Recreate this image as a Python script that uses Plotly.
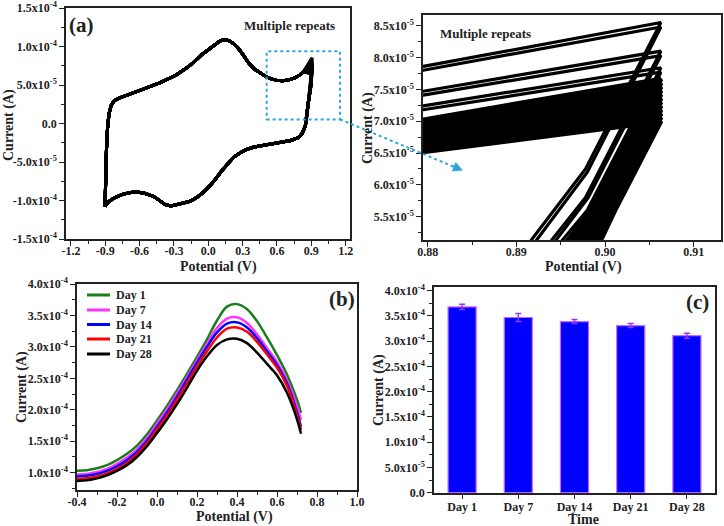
import plotly.graph_objects as go

FONT = "Liberation Serif"
W, H = 724, 526

# ---------------- Panel (a): CV, base cycle (x in V, y in 1e-5 A) ----------------
cv_fwd_x = [-0.902, -0.896, -0.889, -0.880, -0.868, -0.850, -0.820, -0.780, -0.720, -0.650,
            -0.580, -0.500, -0.420, -0.350, -0.280, -0.200, -0.130, -0.060, 0.000, 0.050,
            0.100, 0.140, 0.180, 0.220, 0.260, 0.300, 0.350, 0.400, 0.450, 0.500,
            0.550, 0.600, 0.650, 0.700, 0.750, 0.800, 0.830]
cv_fwd_y = [-10.8, -6.5, -3.2, -0.6, 1.2, 2.3, 3.0, 3.3, 3.6, 4.0,
            4.4, 4.85, 5.3, 5.8, 6.3, 7.1, 7.9, 8.9, 9.6, 10.2,
            10.7, 10.9, 10.75, 10.4, 9.8, 9.0, 7.9, 7.1, 6.55, 6.1,
            5.8, 5.6, 5.55, 5.65, 5.9, 6.3, 6.7]
cv_rev_x = [0.872, 0.862, 0.848, 0.820, 0.786, 0.720, 0.600, 0.500, 0.400, 0.330,
            0.280, 0.220, 0.170, 0.120, 0.070, 0.020, -0.040, -0.100, -0.160, -0.220,
            -0.280, -0.330, -0.380, -0.430, -0.480, -0.550, -0.620, -0.680, -0.750, -0.820,
            -0.870, -0.902]
cv_rev_y = [2.5, 1.0, -0.3, -1.3, -1.85, -2.2, -2.5, -2.75, -3.05, -3.4,
            -3.8, -4.4, -5.2, -6.1, -7.1, -8.0, -8.9, -9.6, -10.1, -10.35,
            -10.55, -10.7, -10.5, -9.95, -9.45, -9.1, -8.9, -8.95, -9.2, -9.65,
            -10.15, -10.75]

# repeated cycles near the positive vertex
cyc_left_x = 0.8795
cyc_vertex_x = 0.9063
cyc_bottom_y = 5.10
cyc_left_y = [7.86, 7.80, 7.47, 7.41, 7.24, 7.18,
              7.02, 6.97, 6.93, 6.88, 6.84, 6.79, 6.75, 6.70, 6.66, 6.61, 6.57, 6.52]
cyc_vertex_y = [8.55, 8.48, 8.10, 8.03, 7.84, 7.77,
                7.66, 7.60, 7.54, 7.48, 7.42, 7.36, 7.30, 7.24, 7.18, 7.12, 7.06, 7.00]
cyc_kink_x = [0.8978, 0.8980, 0.8978, 0.8981, 0.8980, 0.8983,
              0.8987, 0.8989, 0.8991, 0.8993, 0.8996, 0.8998, 0.9000, 0.9002, 0.9005, 0.9007,
              0.9009, 0.9011]
cyc_kink_y = [6.25, 6.20, 5.80, 5.80, 5.60, 5.60,
              5.60, 5.60, 5.60, 5.60, 5.60, 5.60, 5.60, 5.60, 5.60, 5.60, 5.60, 5.60]
cyc_bottom_x = [0.8915, 0.8921, 0.8938, 0.8943, 0.8950, 0.8955,
                0.8960, 0.8963, 0.8966, 0.8969, 0.8972, 0.8975, 0.8978, 0.8981, 0.8984, 0.8987,
                0.8990, 0.8994]
cyc_inset_width = [3.2, 3.2, 3.2, 3.2, 3.2, 3.2,
                   5, 5, 5, 5, 5, 5, 5, 5, 5, 5, 5, 5]

# ---------------- Panel (b): DPV over days (y in 1e-4 A) ----------------
dpv_x = [-0.40, -0.35, -0.30, -0.25, -0.20, -0.15, -0.10, -0.05, 0.00, 0.05, 0.10, 0.15,
         0.20, 0.25, 0.30, 0.35, 0.40, 0.45, 0.50, 0.55, 0.60, 0.65, 0.70, 0.72]
dpv_day1 = [1.03, 1.04, 1.07, 1.12, 1.20, 1.30, 1.43, 1.61, 1.83, 2.06, 2.31, 2.57,
            2.84, 3.12, 3.42, 3.64, 3.68, 3.60, 3.41, 3.15, 2.87, 2.56, 2.16, 1.95]
dpv_day7 = [0.97, 0.98, 1.01, 1.06, 1.14, 1.24, 1.37, 1.55, 1.78, 2.01, 2.26, 2.52,
            2.79, 3.05, 3.30, 3.45, 3.47, 3.38, 3.20, 2.98, 2.76, 2.47, 2.06, 1.84]
dpv_day14 = [0.94, 0.95, 0.98, 1.03, 1.10, 1.20, 1.33, 1.51, 1.73, 1.96, 2.21, 2.48,
             2.75, 3.00, 3.23, 3.37, 3.39, 3.31, 3.14, 2.93, 2.71, 2.42, 1.96, 1.73]
dpv_day21 = [0.90, 0.91, 0.94, 0.99, 1.06, 1.16, 1.29, 1.47, 1.69, 1.91, 2.16, 2.42,
             2.69, 2.93, 3.15, 3.29, 3.31, 3.24, 3.08, 2.88, 2.67, 2.38, 1.91, 1.68]
dpv_day28 = [0.87, 0.88, 0.91, 0.96, 1.03, 1.12, 1.25, 1.42, 1.63, 1.85, 2.09, 2.35,
             2.62, 2.85, 3.03, 3.12, 3.13, 3.06, 2.91, 2.73, 2.55, 2.27, 1.85, 1.62]
dpv_names = ["Day 1", "Day 7", "Day 14", "Day 21", "Day 28"]
dpv_colors = ["#1a7f1a", "#ff33ff", "#0000ff", "#ff0000", "#000000"]

# ---------------- Panel (c): bars (y in 1e-4 A) ----------------
bar_days = ["Day 1", "Day 7", "Day 14", "Day 21", "Day 28"]
bar_mean = [3.68, 3.47, 3.39, 3.31, 3.11]
bar_err = [0.05, 0.08, 0.04, 0.04, 0.05]

# ---------------- tick labels ----------------
a_ytickvals = [-1.5e-4, -1.0e-4, -5e-5, 0, 5e-5, 1.0e-4, 1.5e-4]
a_yticktext = ["-1.5x10<sup>-4</sup>", "-1.0x10<sup>-4</sup>", "-5.0x10<sup>-5</sup>", "0.0",
               "5.0x10<sup>-5</sup>", "1.0x10<sup>-4</sup>", "1.5x10<sup>-4</sup>"]
a_xtickvals = [-1.2, -0.9, -0.6, -0.3, 0.0, 0.3, 0.6, 0.9, 1.2]
a_xticktext = ["-1.2", "-0.9", "-0.6", "-0.3", "0.0", "0.3", "0.6", "0.9", "1.2"]
i_ytickvals = [5.5e-5, 6.0e-5, 6.5e-5, 7.0e-5, 7.5e-5, 8.0e-5, 8.5e-5]
i_yticktext = [f"{v}x10<sup>-5</sup>" for v in ["5.5", "6.0", "6.5", "7.0", "7.5", "8.0", "8.5"]]
i_xtickvals = [0.88, 0.89, 0.90, 0.91]
i_xticktext = ["0.88", "0.89", "0.90", "0.91"]
b_ytickvals = [1.0e-4, 1.5e-4, 2.0e-4, 2.5e-4, 3.0e-4, 3.5e-4, 4.0e-4]
b_yticktext = [f"{v}x10<sup>-4</sup>" for v in ["1.0", "1.5", "2.0", "2.5", "3.0", "3.5", "4.0"]]
b_xtickvals = [-0.4, -0.2, 0.0, 0.2, 0.4, 0.6, 0.8, 1.0]
b_xticktext = ["-0.4", "-0.2", "0.0", "0.2", "0.4", "0.6", "0.8", "1.0"]
c_ytickvals = [0, 5e-5, 1.0e-4, 1.5e-4, 2.0e-4, 2.5e-4, 3.0e-4, 3.5e-4, 4.0e-4]
c_yticktext = ["0.0", "5.0x10<sup>-5</sup>"] + [f"{v}x10<sup>-4</sup>" for v in
                                                ["1.0", "1.5", "2.0", "2.5", "3.0", "3.5", "4.0"]]

fig = go.Figure()

# CV cycles in main panel and inset
for i in range(len(cyc_left_y)):
    xs = cv_fwd_x + [cyc_left_x, cyc_vertex_x, cyc_kink_x[i], cyc_bottom_x[i]] + cv_rev_x
    ys = cv_fwd_y + [cyc_left_y[i], cyc_vertex_y[i], cyc_kink_y[i], cyc_bottom_y] + cv_rev_y
    ys = [v * 1e-5 for v in ys]
    fig.add_trace(go.Scatter(x=xs, y=ys, mode="lines", line=dict(color="black", width=3),
                             showlegend=False, hoverinfo="skip", xaxis="x", yaxis="y"))
    fig.add_trace(go.Scatter(x=xs, y=ys, mode="lines",
                             line=dict(color="black", width=cyc_inset_width[i]),
                             showlegend=False, hoverinfo="skip", xaxis="x2", yaxis="y2"))

# DPV
for name, col, ys in zip(dpv_names, dpv_colors, [dpv_day1, dpv_day7, dpv_day14, dpv_day21, dpv_day28]):
    fig.add_trace(go.Scatter(x=dpv_x, y=[v * 1e-4 for v in ys], mode="lines", name=name,
                             line=dict(color=col, width=2.5, shape="spline"),
                             xaxis="x3", yaxis="y3", showlegend=False))

# Bars
fig.add_trace(go.Bar(x=bar_days, y=[v * 1e-4 for v in bar_mean], width=0.5,
                     marker=dict(color="#0000ff", line=dict(color="#cc66ff", width=1.2)),
                     error_y=dict(type="data", array=[v * 1e-4 for v in bar_err],
                                  color="#9933ff", thickness=1.5, width=3),
                     xaxis="x4", yaxis="y4", showlegend=False))


def ax(domain, rng, tv, tt, anchor, minor_dtick=None, minor_tick0=None, **kw):
    d = dict(domain=domain, range=rng, tickmode="array", tickvals=tv, ticktext=tt,
             anchor=anchor, showline=True, linecolor="#222", linewidth=1.5, mirror=True,
             ticks="outside", ticklen=5, tickwidth=1.3, tickcolor="#222",
             showgrid=False, zeroline=False, automargin=False,
             tickfont=dict(family=FONT, size=12, color="#222", weight="bold"))
    if minor_dtick is not None:
        d["minor"] = dict(dtick=minor_dtick, tick0=minor_tick0, ticks="outside", ticklen=3,
                          tickwidth=1, tickcolor="#222", showgrid=False)
    d.update(kw)
    return d


def px2x(p):
    return p / W


def px2y(p):
    return 1 - p / H


XS = dict(ticklabelstandoff=-5)

fig.update_layout(
    width=W, height=H, margin=dict(l=0, r=0, t=0, b=0, autoexpand=False),
    paper_bgcolor="white", plot_bgcolor="white",
    font=dict(family=FONT, color="#222"),
    xaxis=ax([px2x(66), px2x(350)], [-1.243, 1.238], a_xtickvals, a_xticktext, "y", 0.15, -1.2, **XS),
    yaxis=ax([px2y(239), px2y(8)], [-1.5e-4, 1.5e-4], a_ytickvals, a_yticktext, "x", 2.5e-5, -1.5e-4),
    xaxis2=ax([px2x(423), px2x(721)], [0.87947, 0.91308], i_xtickvals, i_xticktext, "y2", 0.005, 0.88, **XS),
    yaxis2=ax([px2y(240), px2y(15)], [5.134e-5, 8.668e-5], i_ytickvals, i_yticktext, "x2", 2.5e-6, 5.5e-5),
    xaxis3=ax([px2x(77), px2x(357)], [-0.4, 1.0], b_xtickvals, b_xticktext, "y3", 0.1, -0.4, **XS),
    yaxis3=ax([px2y(490), px2y(284)], [0.725e-4, 4.0e-4], b_ytickvals, b_yticktext, "x3", 2.5e-5, 1.0e-4),
    xaxis4=dict(domain=[px2x(434), px2x(715)], range=[-0.5, 4.5], anchor="y4", automargin=False,
                showline=True, linecolor="#222", linewidth=1.5, mirror=True,
                ticks="outside", ticklen=5, tickwidth=1.3, tickcolor="#222", showgrid=False,
                ticklabelstandoff=-3,
                tickfont=dict(family=FONT, size=12, color="#222", weight="bold")),
    yaxis4=ax([px2y(492.7), px2y(286.7)], [0, 4.08e-4], c_ytickvals, c_yticktext, "x4", 2.5e-5, 0),
    showlegend=False,
    bargap=0.5,
)

blue = "#29a8e0"
fig.add_shape(type="rect", xref="x", yref="y", x0=0.51, x1=1.15, y0=0.52e-5, y1=9.37e-5,
              line=dict(color=blue, width=2, dash="dot"))
fig.add_shape(type="line", xref="paper", yref="paper", x0=px2x(340), y0=px2y(119.3),
              x1=px2x(458), y1=px2y(168.5), line=dict(color=blue, width=2, dash="dot"))
fig.add_annotation(xref="paper", yref="paper", x=px2x(463), y=px2y(170.5), ax=-12, ay=-5,
                   showarrow=True, arrowhead=2, arrowsize=1, arrowwidth=2, arrowcolor=blue, text="")


def txt(x, y, s, size=14, angle=0, xanchor="center"):
    fig.add_annotation(xref="paper", yref="paper", x=px2x(x), y=px2y(y), text=s, showarrow=False,
                       textangle=angle, xanchor=xanchor, yanchor="middle",
                       font=dict(family=FONT, size=size, color="#222", weight="bold"))


# legend of panel (b)
legend_rows = [295, 310, 324.5, 339, 354]
for name, col, yy in zip(dpv_names, dpv_colors, legend_rows):
    fig.add_shape(type="line", xref="paper", yref="paper", x0=px2x(87), x1=px2x(110),
                  y0=px2y(yy), y1=px2y(yy), line=dict(color=col, width=3))
    txt(114, yy, name, 12, 0, "left")

txt(9, 125, "Current (A)", 14, -90)
txt(218, 267, "Potential (V)", 14)
txt(368, 128, "Current (A)", 14, -90)
txt(583, 267, "Potential (V)", 14)
txt(22, 387, "Current (A)", 14, -90)
txt(235, 517, "Potential (V)", 14)
txt(379, 390, "Current (A)", 14, -90)
txt(583, 519, "Time", 14)
txt(81, 25, "(a)", 21)
txt(342, 299, "(b)", 21)
txt(697, 302, "(c)", 21)
txt(289, 25, "Multiple repeats", 13)
txt(485, 33, "Multiple repeats", 13)

fig.write_html("out.html", config={"displayModeBar": False},
               post_script="document.body.style.margin='0px';")
